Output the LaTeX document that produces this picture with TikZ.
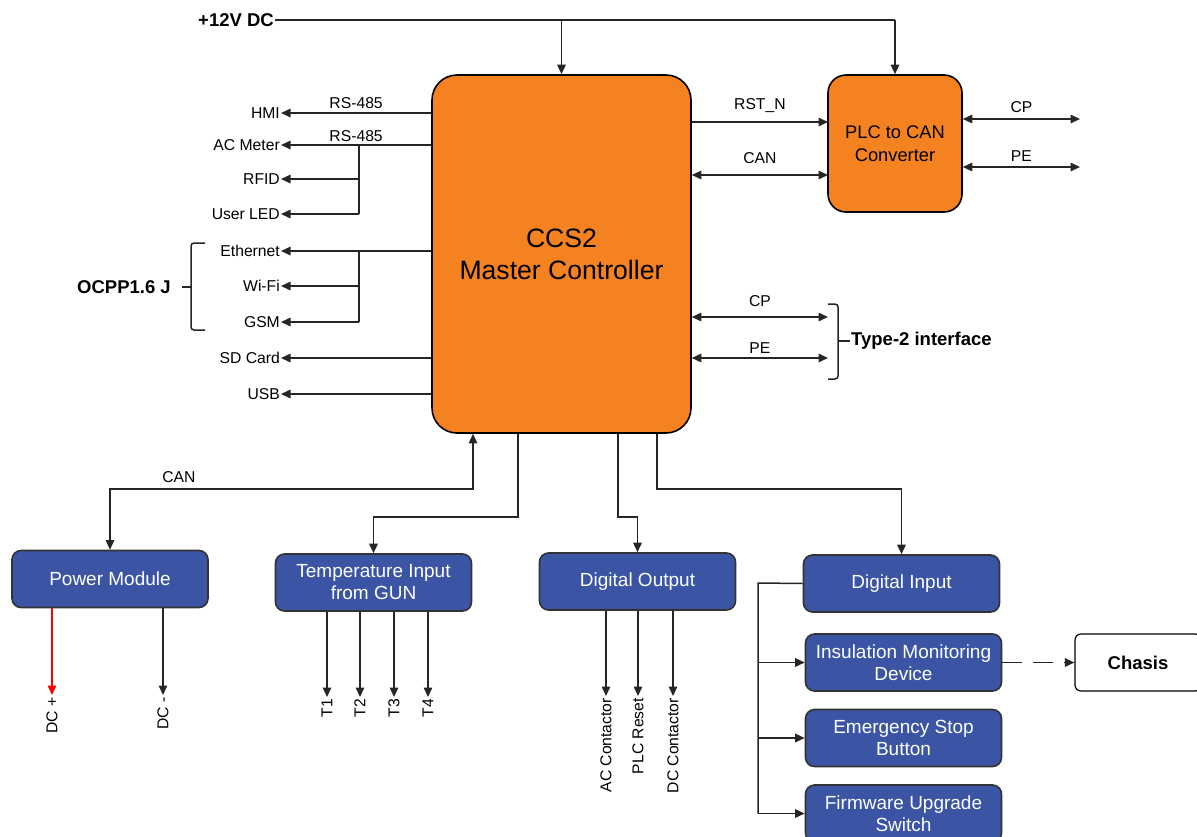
\documentclass[tikz,border=0pt]{standalone}
\usepackage{fontspec}
\setmainfont{Liberation Sans}
\usetikzlibrary{arrows.meta, positioning, calc}

\definecolor{ccsorange}{RGB}{245,130,32}
\definecolor{ccsblue}{RGB}{59,85,164}

\tikzset{
  wire/.style={line width=1.5pt, draw=black!85},
  arr/.style={wire, -{Triangle[length=9.5pt, width=8.5pt]}},
  darr/.style={wire, {Triangle[length=9.5pt, width=8.5pt]}-{Triangle[length=9.5pt, width=8.5pt]}},
  orangebox/.style={draw, line width=1.6pt, fill=ccsorange, align=center},
  bluebox/.style={draw=black!80, line width=1.6pt, fill=ccsblue, text=white, rounded corners=9pt,
    minimum width=196pt, minimum height=57pt, align=center, font=\fontsize{19}{22}\selectfont},
  lbl/.style={inner sep=1pt},
  hd/.style={font=\bfseries\fontsize{18.5}{20}\selectfont},
  vlbl/.style={rotate=90, anchor=east, inner sep=2pt}
}

\begin{document}
\begin{tikzpicture}[x=1pt, y=-1pt, every node/.style={font=\fontsize{15.7}{18}\selectfont}]
    \useasboundingbox (0,0) rectangle (1197,836);

    % main blocks
    \node[orangebox, rounded corners=25pt, minimum width=259pt, minimum height=358pt, font=\fontsize{26.6}{32}\selectfont] (master) at (561.5,254) {CCS2\\Master Controller};
    \node[orangebox, rounded corners=18pt, minimum width=134pt, minimum height=137pt, font=\fontsize{18.3}{23}\selectfont] (plc) at (895,143.5) {PLC to CAN\\Converter};

    % supply
    \node[hd, anchor=east, inner sep=1pt] (vdc) at (275,20) {+12V DC};
    \coordinate (vend) at (895,20);
    \draw[wire] (vdc.east) -- (vend);
    \draw[arr] (master.north |- vdc) -- (master.north);
    \draw[arr] (vend) -- (plc.north);

    % left side peripherals
    \node[lbl, anchor=east] (hmi) at (281,113) {HMI};
    \node[lbl, anchor=east] (acm) at (281,145) {AC Meter};
    \node[lbl, anchor=east] (rfid) at (281,179) {RFID};
    \node[lbl, anchor=east] (led) at (281,214) {User LED};
    \node[lbl, anchor=east] (eth) at (281,251) {Ethernet};
    \node[lbl, anchor=east] (wifi) at (281,286) {Wi-Fi};
    \node[lbl, anchor=east] (gsm) at (281,322) {GSM};
    \node[lbl, anchor=east] (sd) at (281,358) {SD Card};
    \node[lbl, anchor=east] (usb) at (281,394) {USB};

    \draw[arr] (master.west |- hmi) -- (hmi.east) node[lbl, midway, above=3pt] {RS-485};
    \draw[arr] (master.west |- acm) -- (acm.east) node[lbl, midway, above=2pt] {RS-485};
    \coordinate (jmeter) at (359,145);
    \draw[wire] (jmeter) -- (jmeter |- led);
    \draw[arr] (jmeter |- rfid) -- (rfid.east);
    \draw[arr] (jmeter |- led) -- (led.east);

    \draw[arr] (master.west |- eth) -- (eth.east);
    \coordinate (jcomm) at (359,251);
    \draw[wire] (jcomm) -- (jcomm |- gsm);
    \draw[arr] (jcomm |- wifi) -- (wifi.east);
    \draw[arr] (jcomm |- gsm) -- (gsm.east);
    \draw[arr] (master.west |- sd) -- (sd.east);
    \draw[arr] (master.west |- usb) -- (usb.east);

    % OCPP bracket
    \node[hd, anchor=east, inner sep=0pt] (ocpp) at (171,287) {OCPP1.6 J};
    \coordinate (ocppbr) at (191,287);
    \draw[wire, rounded corners=3pt] (205,243) -| (191,330) -- (205,330);
    \draw[wire] (ocppbr) -- ++(-9,0);

    % right side, PLC
    \coordinate (rst) at (828,122);
    \coordinate (canr) at (828,175);
    \draw[arr] (master.east |- rst) -- (rst) node[lbl, midway, above=8pt] {RST\_N};
    \draw[darr] (master.east |- canr) -- (canr) node[lbl, midway, above=10pt] {CAN};
    \coordinate (plccp) at (1080,119);
    \coordinate (plcpe) at (1080,167);
    \draw[darr] (plc.east |- plccp) -- (plccp) node[lbl, midway, above=5pt] {CP};
    \draw[darr] (plc.east |- plcpe) -- (plcpe) node[lbl, midway, above=4pt] {PE};

    % Type-2 interface
    \coordinate (tcp) at (828,317);
    \coordinate (tpe) at (828,358);
    \draw[darr] (master.east |- tcp) -- (tcp) node[lbl, midway, above=9pt] {CP};
    \draw[darr] (master.east |- tpe) -- (tpe) node[lbl, midway, above=3pt] {PE};
    \draw[wire, rounded corners=3pt] (828,304) -| (838,379) -- (828,379);
    \node[hd, anchor=west, inner sep=1pt] (type2) at (850,341) {Type-2 interface};
    \draw[wire] (type2.west) -- ++(-12,0);

    % lower blocks
    \node[bluebox] (pm) at (110,579) {Power Module};
    \node[bluebox] (temp) at (373.5,582.5) {Temperature Input\\from GUN};
    \node[bluebox] (dout) at (637.5,581.5) {Digital Output};
    \node[bluebox] (din) at (901.5,583.5) {Digital Input};
    \node[bluebox] (imd) at (903.5,662.5) {Insulation Monitoring\\Device};
    \node[bluebox] (estop) at (903.5,738) {Emergency Stop\\Button};
    \node[bluebox] (fw) at (903.5,813.5) {Firmware Upgrade\\Switch};
    \node[draw, line width=1.2pt, rounded corners=6pt, minimum width=126pt, minimum height=57pt, hd] (chasis) at (1138,662.5) {Chasis};

    % master to lower blocks
    \coordinate (canb) at (473,489);
    \draw[darr] (pm.north) |- (canb) node[lbl, pos=0.595, above=5pt] {CAN} -- (canb |- master.south);
    \coordinate (tempb) at (518,517);
    \draw[arr] (master.south -| tempb) -- (tempb) -| (temp.north);
    \coordinate (doutb) at (618,517);
    \draw[arr] (master.south -| doutb) -- (doutb) -| (dout.north);
    \coordinate (dinb) at (657,489);
    \draw[arr] (master.south -| dinb) -- (dinb) -| (din.north);

    % digital input branches
    \coordinate (dinl) at (758,583);
    \draw[wire] (din.west) -- (dinl) -- (dinl |- fw);
    \draw[arr] (dinl |- imd) -- (imd.west);
    \draw[arr] (dinl |- estop) -- (estop.west);
    \draw[arr] (dinl |- fw) -- (fw.west);
    \draw[arr, dash pattern=on 20pt off 11pt] (imd.east) -- (chasis.west);

    % outputs
    \node[vlbl] (dcp) at (52,695) {DC +};
    \node[vlbl] (dcm) at (163,695) {DC -};
    \draw[arr, draw=red, fill=red] (pm.south -| dcp) -- (dcp.east);
    \draw[arr] (pm.south -| dcm) -- (dcm.east);

    \node[vlbl] (t1) at (327,697) {T1};
    \node[vlbl] (t2) at (360,697) {T2};
    \node[vlbl] (t3) at (394,697) {T3};
    \node[vlbl] (t4) at (428,697) {T4};
    \draw[arr] (temp.south -| t1) -- (t1.east);
    \draw[arr] (temp.south -| t2) -- (t2.east);
    \draw[arr] (temp.south -| t3) -- (t3.east);
    \draw[arr] (temp.south -| t4) -- (t4.east);

    \node[vlbl] (acc) at (606,696) {AC Contactor};
    \node[vlbl] (plcr) at (638,696) {PLC Reset};
    \node[vlbl] (dcc) at (673,696) {DC Contactor};
    \draw[arr] (dout.south -| acc) -- (acc.east);
    \draw[arr] (dout.south -| plcr) -- (plcr.east);
    \draw[arr] (dout.south -| dcc) -- (dcc.east);
\end{tikzpicture}
\end{document}
